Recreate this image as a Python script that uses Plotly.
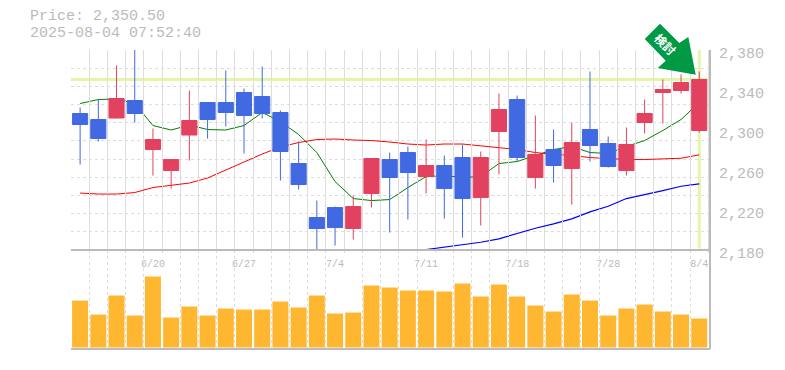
import plotly.graph_objects as go

# Session labels on the price axis (category index -> date text)
label_index = [4, 9, 14, 19, 24, 29, 34]
date_labels = ["6/20", "6/27", "7/4", "7/11", "7/18", "7/28", "8/4"]

open_ = [2316.5, 2310.5, 2312, 2329.5, 2280.5, 2259.5, 2295, 2327.5, 2327.5, 2337.5, 2333.5,
         2317.5, 2266.5, 2212.5, 2222.5, 2201.5, 2236.5, 2270.5, 2277.5, 2253.5, 2264.5, 2272.5,
         2232.5, 2298.5, 2330.5, 2252.5, 2280.5, 2261.5, 2300.5, 2286.5, 2259.5, 2307.5, 2337.5,
         2339.5, 2299.5]
close = [2305.5, 2291.5, 2331.5, 2316.5, 2290.5, 2270.5, 2309.5, 2310.5, 2317.5, 2314.5, 2316.5,
         2278.5, 2245.5, 2201.5, 2202.5, 2223.5, 2271.5, 2252.5, 2257.5, 2264.5, 2241.5, 2231.5,
         2272.5, 2320.5, 2272.5, 2275.5, 2264.5, 2287.5, 2284.5, 2263.5, 2285.5, 2316.5, 2340.5,
         2347.5, 2350.5]
high = [2322.5, 2330.5, 2364.5, 2380, 2301.5, 2270.5, 2339.5, 2327.5, 2359.5, 2341.5, 2363.5,
        2319.5, 2288.5, 2229.5, 2223.5, 2234.5, 2271.5, 2277.5, 2283.5, 2290.5, 2274.5, 2285.5,
        2278.5, 2336.5, 2334.5, 2314.5, 2300.5, 2307.5, 2358.5, 2293.5, 2302.5, 2330.5, 2350.5,
        2355.5, 2358.5]
low = [2265.5, 2288.5, 2311.5, 2307.5, 2254.5, 2241.5, 2269.5, 2291.5, 2303.5, 2276.5, 2311.5,
       2249.5, 2240.5, 2180, 2184.5, 2190.5, 2222.5, 2197.5, 2210.5, 2236.5, 2211.5, 2192.5,
       2204.5, 2255.5, 2268.5, 2241.5, 2247.5, 2225.5, 2268.5, 2262.5, 2254.5, 2296.5, 2306.5,
       2336.5, 2297.5]
ma_short = [2326.5, 2330.5, 2331, 2326.5, 2304.5, 2300, 2305, 2300.5, 2300, 2304.5, 2317.5,
            2308.5, 2295.5, 2277.5, 2248.5, 2231.5, 2229.5, 2230.5, 2242.5, 2253.5, 2254.5,
            2252.5, 2253.5, 2266.5, 2268.5, 2274.5, 2280.5, 2283.5, 2277.5, 2276.5, 2283.5,
            2289.5, 2299.5, 2310.5, 2327.5]
ma_mid = [2237, 2236, 2236, 2237.5, 2242.5, 2245, 2247, 2252, 2260, 2268, 2276, 2283, 2287.5,
          2290.5, 2291, 2290, 2289.5, 2288, 2286, 2285, 2286, 2286, 2284, 2282, 2280.5, 2277.5,
          2275.5, 2274.5, 2272.5, 2271.5, 2270.5, 2270.5, 2271, 2271.8, 2275.2]
ma_long = [None] * 19 + [2180.5, 2182.8, 2184.8, 2187.8, 2191.2, 2196.5, 2201.8, 2206.2,
                         2211.2, 2218.2, 2223.8, 2231.5, 2235.2, 2239.5, 2243.8, 2246.2]
volume = [47, 33, 52, 32, 71, 30, 41, 32, 39, 38, 38, 46, 40, 52, 34, 35, 62, 60, 57, 57, 56,
          64, 51, 63, 51, 42, 36, 53, 47, 32, 39, 43, 36, 33, 29]
last_price = 2350.5
y_labels = [2180, 2220, 2260, 2300, 2340, 2380]

positions = [i + 0.5 for i in range(len(volume))]
GRID = "#dddddd"
FRAME = "#bbbbbb"
BAND = "#e4f5a8"
FONT = "Liberation Mono, Courier New, monospace"
H = 370
PT, PM, PB = 50.3, 250.5, 349.5      # panel pixel rows
PLOT_T, PLOT_B = 50.3, 20.5
plot_h = H - PLOT_T - PLOT_B
frac = lambda py: max(0.0, min(1.0, (PB - py) / plot_h))

fig = go.Figure()
# current price guides
fig.add_trace(go.Scatter(x=[0, 35.09], y=[last_price, last_price], mode="lines",
                         line=dict(color=BAND, width=3), hoverinfo="skip"))
fig.add_trace(go.Scatter(x=[positions[-1]] * 2, y=[2181.5, 2380], mode="lines",
                         line=dict(color=BAND, width=3), hoverinfo="skip"))
# moving averages
fig.add_trace(go.Scatter(x=positions, y=ma_short, mode="lines", line=dict(color="#008000", width=1)))
fig.add_trace(go.Scatter(x=positions, y=ma_mid, mode="lines", line=dict(color="#ff0000", width=1)))
fig.add_trace(go.Scatter(x=positions, y=ma_long, mode="lines", line=dict(color="#0000ff", width=1.2)))
# candles sit on an overlay of the price axis so that they cover the lines
fig.add_trace(go.Candlestick(
    x=positions, open=open_, high=high, low=low, close=close, whiskerwidth=0, yaxis="y4",
    increasing=dict(line=dict(color="#e2425f", width=1), fillcolor="#e2425f"),
    decreasing=dict(line=dict(color="#4169e1", width=1), fillcolor="#4169e1"),
))
# volume
fig.add_trace(go.Bar(x=positions, y=volume, width=0.88, marker=dict(color="#ffb732", line_width=0),
                     xaxis="x2", yaxis="y2"))
# invisible trace that carries the price label axis
fig.add_trace(go.Scatter(x=[positions[0]], y=[2300], yaxis="y3", mode="markers",
                         marker=dict(opacity=0), hoverinfo="skip"))

minor_grid = dict(tick0=0, dtick=1, showgrid=True, gridcolor=GRID, griddash="3px,3px",
                  gridwidth=1, ticks="")
fig.update_layout(
    width=785, height=370, autosize=False, showlegend=False, plot_bgcolor="rgba(0,0,0,0)",
    paper_bgcolor="#ffffff", boxgap=0.17, boxgroupgap=0,
    margin=dict(l=70.7, r=75, t=PLOT_T, b=PLOT_B, pad=0),
    font=dict(family=FONT, color=FRAME, size=15),
    xaxis=dict(domain=[0, 1], range=[0, 35.09], rangeslider=dict(visible=False),
               anchor="y", tickmode="array",
               tickvals=[positions[i] for i in label_index], ticktext=date_labels,
               tickfont=dict(size=10, color=FRAME), showgrid=False, minor=minor_grid,
               ticks="", zeroline=False, showline=False, ticklabelstandoff=6),
    xaxis2=dict(domain=[0, 1], range=[0, 35.09], anchor="y2", showticklabels=False,
                showgrid=False, minor=minor_grid, ticks="", zeroline=False, showline=False),
    yaxis=dict(domain=[frac(PM), frac(PT)], range=[2180, 2380], anchor="x", tick0=2180,
               dtick=200 / 11, showticklabels=False, showgrid=True, gridcolor=GRID,
               griddash="3px,3px", gridwidth=1, zeroline=False, ticks=""),
    yaxis2=dict(domain=[0, frac(PM)], range=[-1.5, 97.5], anchor="x2", showticklabels=False,
                showgrid=False, zeroline=False, ticks=""),
    yaxis3=dict(domain=[frac(PM + 3), frac(PT + 3)], range=[2180, 2380], anchor="x", side="right",
                tickmode="array", tickvals=y_labels, ticktext=[f"{v:,}" for v in y_labels],
                tickfont=dict(size=15, color=FRAME), showgrid=False, zeroline=False, ticks="",
                ticklabelstandoff=8),
    yaxis4=dict(overlaying="y", range=[2180, 2380], anchor="x", visible=False, showgrid=False),
    shapes=[
        dict(type="line", xref="paper", yref="paper", x0=0, x1=1, y0=frac(PM), y1=frac(PM),
             line=dict(color=FRAME, width=2)),
        dict(type="line", xref="paper", yref="paper", x0=0, x1=1, y0=0, y1=0,
             line=dict(color=FRAME, width=2)),
        dict(type="line", xref="paper", yref="paper", x0=1, x1=1, y0=0, y1=1,
             line=dict(color=FRAME, width=2)),
        # signal arrow, in pixels relative to the plot corner
        dict(type="path", xref="paper", yref="paper", layer="above", line_width=0,
             fillcolor="#009944",
             path="M {} {} L {} {} L {} {} L {} {} L {} {} L {} {} L {} {} Z".format(
                 *[v for px, py in [(660, 24), (644.7, 39.3), (665.7, 61), (657.7, 68.3),
                                    (695.7, 75), (688.3, 37.3), (679.3, 43.3)]
                   for v in ((px - 70.7) / 639.3, (PB - py) / plot_h)])),
    ],
    annotations=[
        dict(text="Price: 2,350.50", xref="paper", yref="paper", xanchor="left", yanchor="middle",
             x=(28.3 - 70.7) / 639.3, y=(PB - 16.5) / plot_h, showarrow=False, borderpad=0,
             font=dict(size=15, color=FRAME)),
        dict(text="2025-08-04 07:52:40", xref="paper", yref="paper", xanchor="left", yanchor="middle",
             x=(28.3 - 70.7) / 639.3, y=(PB - 34) / plot_h, showarrow=False, borderpad=0,
             font=dict(size=15, color=FRAME)),
        dict(text="<b>検討</b>", xref="paper", yref="paper", xanchor="center", yanchor="middle",
             x=(665.5 - 70.7) / 639.3, y=(PB - 43.5) / plot_h, showarrow=False, textangle=45,
             font=dict(size=12, color="#ffffff", family="Noto Sans CJK JP")),
    ],
)
fig.write_html("out.html", config=dict(displayModeBar=False),
               post_script="document.body.style.margin='0';")
